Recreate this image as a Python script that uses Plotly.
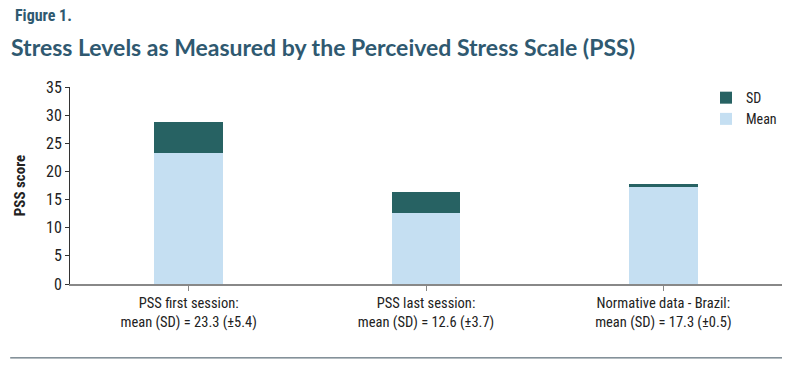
import plotly.graph_objects as go

categories = ["PSS first session:<br>mean (SD) = 23.3 (±5.4)",
              "PSS last session:<br>mean (SD) = 12.6 (±3.7)",
              "Normative data - Brazil:<br>mean (SD) = 17.3 (±0.5)"]
mean_vals = [23.3, 12.6, 17.3]
sd_vals = [5.4, 3.7, 0.5]
y_ticks = [0, 5, 10, 15, 20, 25, 30, 35]

MEAN_C = "#c5dff2"
SD_C = "#276263"
TITLE_C = "#2f5970"
NARROW = "Liberation Sans Narrow, Arial Narrow, Roboto Condensed, sans-serif"

fig = go.Figure()
fig.add_trace(go.Bar(x=categories, y=mean_vals, name="Mean", marker_color=MEAN_C,
                     marker_line_width=0))
fig.add_trace(go.Bar(x=categories, y=sd_vals, name="SD", marker_color=SD_C,
                     marker_line_width=0))

fig.update_layout(
    width=794, height=376,
    barmode="stack", bargap=0.71,
    plot_bgcolor="white", paper_bgcolor="white",
    margin=dict(l=70, r=12, t=87, b=92),
    showlegend=True,
    legend=dict(x=1.0, y=1.025, xanchor="right", yanchor="top",
                traceorder="reversed", font=dict(family=NARROW, size=14, color="#222"),
                itemwidth=30, tracegroupgap=0, bgcolor="rgba(0,0,0,0)"),
    font=dict(family=NARROW, size=13, color="#222"),
)
fig.update_yaxes(range=[0, 35], tickvals=y_ticks, showgrid=False, zeroline=False,
                 showline=True, linecolor="#333", linewidth=1, ticks="outside",
                 ticklen=4, tickcolor="#333", tickfont=dict(family=NARROW, size=16, color="#222"),
                 title=dict(text="<b>PSS score</b>", font=dict(family=NARROW, size=15, color="#222"),
                            standoff=16), automargin=False)
fig.update_xaxes(showline=True, linecolor="#888", linewidth=1.5, ticks="outside", ticklen=5,
                 tickcolor="#888", tickfont=dict(family=NARROW, size=14.5, color="#222"),
                 showgrid=False, automargin=False)

fig.add_annotation(xref="paper", yref="paper", x=-0.080, y=1.0, xanchor="left", yanchor="bottom",
                   yshift=60, text="<b>Figure 1.</b>", showarrow=False,
                   font=dict(family=NARROW, size=16, color=TITLE_C))
fig.add_annotation(xref="paper", yref="paper", x=-0.086, y=1.0, xanchor="left", yanchor="bottom",
                   yshift=24, text="<b>Stress Levels as Measured by the Perceived Stress Scale (PSS)</b>",
                   showarrow=False, font=dict(family="Lato, Open Sans, sans-serif", size=23, color=TITLE_C))
fig.add_shape(type="line", xref="paper", yref="paper", x0=-0.084, x1=1.0, y0=-0.375, y1=-0.375,
              line=dict(color="#3a4f5c", width=1))

fig.write_html("out.html", config={"displayModeBar": False},
               post_script="document.body.style.margin='0';document.body.style.overflow='hidden';")
